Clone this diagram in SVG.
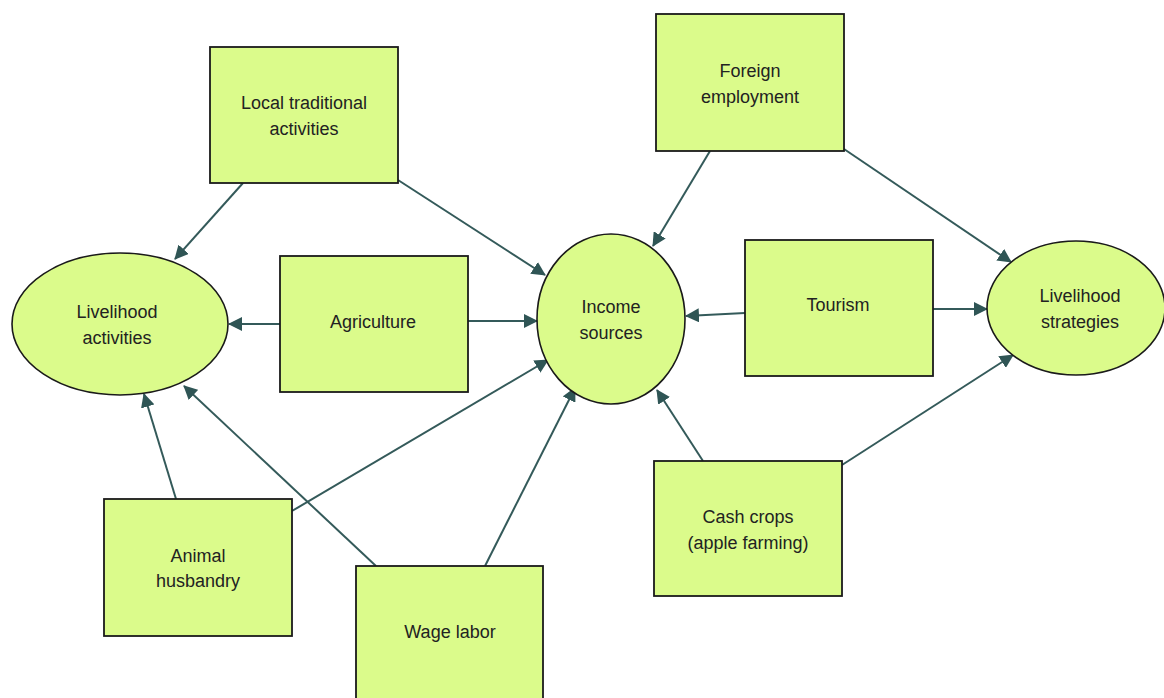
<svg xmlns="http://www.w3.org/2000/svg" width="1164" height="698" viewBox="0 0 1164 698">
  <style>
    .box { fill: #dbfb8b; stroke: #1a1a1a; stroke-width: 1.8; }
    .oval { fill: #dbfb8b; stroke: #1a1a1a; stroke-width: 1.6; }
    .lbl { font-family: "Liberation Sans", Arial, sans-serif; font-size: 18px; fill: #222; text-anchor: middle; }
    .edge { stroke: #345a5a; stroke-width: 2; fill: none; marker-end: url(#arrow); }
  </style>
  <defs>
    <marker id="arrow" markerUnits="userSpaceOnUse" markerWidth="14" markerHeight="14" refX="13" refY="7" orient="auto">
      <path d="M0,0 L14,7 L0,14 Z" fill="#2f5555"/>
    </marker>
  </defs>

  <rect width="1164" height="698" fill="#ffffff"/>

  <!-- connectors -->
  <g id="connectors">
    <line class="edge" x1="243" y1="183" x2="175" y2="259"/>
    <line class="edge" x1="398" y1="180" x2="545" y2="275"/>
    <line class="edge" x1="280" y1="324" x2="229" y2="324"/>
    <line class="edge" x1="468" y1="321" x2="537" y2="321"/>
    <line class="edge" x1="176" y1="499" x2="144" y2="394"/>
    <line class="edge" x1="376" y1="566" x2="184" y2="386"/>
    <line class="edge" x1="292" y1="511" x2="548" y2="360"/>
    <line class="edge" x1="485" y1="566" x2="575" y2="388"/>
    <line class="edge" x1="710" y1="151" x2="653" y2="246"/>
    <line class="edge" x1="844" y1="149" x2="1011" y2="262"/>
    <line class="edge" x1="745" y1="313" x2="686" y2="316"/>
    <line class="edge" x1="933" y1="309" x2="987" y2="309"/>
    <line class="edge" x1="703" y1="461" x2="657" y2="390"/>
    <line class="edge" x1="842" y1="465" x2="1013" y2="355"/>
  </g>

  <!-- nodes -->
  <g id="livelihood-activities">
    <ellipse class="oval" cx="120" cy="324" rx="108" ry="71"/>
    <text class="lbl" x="117" y="318">Livelihood</text>
    <text class="lbl" x="117" y="344">activities</text>
  </g>
  <g id="local-traditional">
    <rect class="box" x="210" y="47" width="188" height="136"/>
    <text class="lbl" x="304" y="109">Local traditional</text>
    <text class="lbl" x="304" y="135">activities</text>
  </g>
  <g id="agriculture">
    <rect class="box" x="280" y="256" width="188" height="136"/>
    <text class="lbl" x="373" y="328">Agriculture</text>
  </g>
  <g id="income-sources">
    <ellipse class="oval" cx="611" cy="319" rx="74" ry="85"/>
    <text class="lbl" x="611" y="313">Income</text>
    <text class="lbl" x="611" y="339">sources</text>
  </g>
  <g id="foreign-employment">
    <rect class="box" x="656" y="14" width="188" height="137"/>
    <text class="lbl" x="750" y="77">Foreign</text>
    <text class="lbl" x="750" y="103">employment</text>
  </g>
  <g id="tourism">
    <rect class="box" x="745" y="240" width="188" height="136"/>
    <text class="lbl" x="838" y="311">Tourism</text>
  </g>
  <g id="livelihood-strategies">
    <ellipse class="oval" cx="1076" cy="308" rx="89" ry="67"/>
    <text class="lbl" x="1080" y="302">Livelihood</text>
    <text class="lbl" x="1080" y="328">strategies</text>
  </g>
  <g id="animal-husbandry">
    <rect class="box" x="104" y="499" width="188" height="137"/>
    <text class="lbl" x="198" y="562">Animal</text>
    <text class="lbl" x="198" y="587">husbandry</text>
  </g>
  <g id="wage-labor">
    <rect class="box" x="356" y="566" width="187" height="140"/>
    <text class="lbl" x="450" y="638">Wage labor</text>
  </g>
  <g id="cash-crops">
    <rect class="box" x="654" y="461" width="188" height="135"/>
    <text class="lbl" x="748" y="523">Cash crops</text>
    <text class="lbl" x="748" y="549">(apple farming)</text>
  </g>
</svg>
